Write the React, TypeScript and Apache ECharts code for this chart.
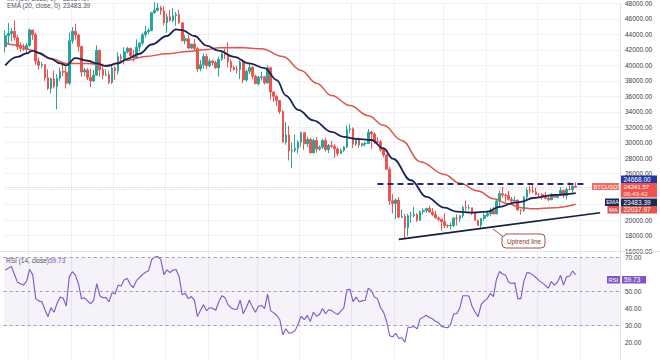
import React, { useEffect, useRef } from 'react';
import * as echarts from 'echarts';

const FONT = 'Liberation Sans, Arial, sans-serif';

// [open, close, low, high]
const febCandles = [
  [42400, 43840, 41650, 44500], [43840, 44120, 42670, 45490], [44120, 44390, 43120, 44800],
  [44390, 43570, 43200, 45820], [43570, 42400, 42000, 43920], [42400, 42200, 41760, 42990],
  [42200, 42070, 41870, 42760], [42070, 42560, 41570, 42880], [42560, 44580, 42430, 44760],
  [44580, 43960, 43310, 44580], [43960, 40540, 40070, 44200], [40540, 40010, 39450, 40990],
  [40010, 40100, 39640, 40440], [40100, 38400, 38000, 40140], [38400, 37020, 36810, 39490],
  [37020, 38250, 36350, 38450], [38250, 37260, 37050, 39300], [37260, 38330, 34320, 38860],
  [38330, 39220, 38010, 39730], [39220, 39120, 38600, 40300], [39120, 37700, 37000, 39850],
  [37700, 43190, 37450, 44230],
];
const marCandles = [
  [43190, 44420, 42810, 44950], [44420, 43920, 43330, 45400], [43920, 42450, 41830, 44100],
  [42450, 39150, 38550, 42540], [39150, 39400, 38580, 39690], [39400, 38420, 38090, 39650],
  [38420, 37990, 37160, 39550], [37990, 38730, 37860, 39380], [38730, 41940, 38660, 42600],
  [41940, 39420, 38540, 42040], [39420, 38730, 38220, 40240], [38730, 38810, 38660, 39490],
  [38810, 37790, 37570, 39310], [37790, 39670, 37590, 39950], [39670, 39280, 38100, 39880],
  [39280, 41110, 38830, 41720], [41110, 40910, 40500, 41480], [40910, 41760, 40130, 42330],
  [41760, 42200, 41500, 42400], [42200, 41260, 40900, 42300], [41260, 41000, 40460, 42000],
  [41000, 42360, 40880, 43360], [42360, 42880, 41820, 43000], [42880, 43960, 42580, 44200],
  [43960, 44350, 43590, 45100], [44350, 44510, 44070, 44800], [44510, 46820, 44410, 46950],
  [46820, 47130, 46660, 48190], [47130, 47430, 46950, 48100], [47430, 47070, 46540, 47700],
  [47070, 45510, 45200, 47600],
];
const aprCandles = [
  [45510, 46280, 44200, 46700], [46280, 45810, 45620, 47200], [45810, 46410, 45520, 47440],
  [46410, 46580, 45120, 46890], [46580, 45500, 45350, 47200], [45500, 43170, 43120, 45500],
  [43170, 43440, 42730, 43900], [43440, 42250, 42110, 43970], [42250, 42750, 42130, 42800],
  [42750, 42160, 41870, 43420], [42160, 39530, 39200, 42400], [39530, 40070, 39250, 40700],
  [40070, 41150, 39580, 41560], [41150, 39940, 39550, 41500], [39940, 40550, 39770, 40870],
  [40550, 40380, 39990, 40710], [40380, 39680, 39550, 40600], [39680, 40800, 38540, 41120],
  [40800, 41500, 40570, 41760], [41500, 41370, 40820, 42200], [41370, 40480, 39750, 42980],
  [40480, 39710, 39180, 40800], [39710, 39470, 39310, 39980], [39470, 39450, 38940, 39930],
  [39450, 40430, 38200, 40620], [40430, 38120, 37700, 40800], [38120, 39240, 37870, 39470],
  [39240, 39740, 38880, 40370], [39740, 38600, 38180, 39930], [38600, 37630, 37580, 38800],
];
const mayCandles = [
  [37630, 38470, 37390, 38670], [38470, 38520, 38050, 39170], [38520, 37720, 37500, 38650],
  [37720, 39690, 37670, 40020], [39690, 36550, 35570, 39850], [36550, 36010, 35260, 36650],
  [36010, 35470, 34780, 36130], [35470, 34040, 33710, 35500], [34040, 30080, 30030, 34240],
  [30080, 31010, 29730, 32660], [31010, 28940, 27700, 32190], [28940, 29030, 26700, 30030],
  [29030, 29280, 28750, 31080], [29280, 30080, 28610, 30330], [30080, 31300, 29480, 31430],
  [31300, 29860, 29090, 31300], [29860, 30420, 29450, 30780], [30420, 28680, 28660, 30650],
  [28680, 30290, 28670, 30540], [30290, 29180, 28730, 30770], [29180, 29430, 28940, 29620],
  [29430, 30280, 29220, 30470], [30280, 29100, 28850, 30650], [29100, 29650, 28660, 29830],
  [29650, 29540, 29290, 30220], [29540, 29200, 28020, 29850], [29200, 28620, 28270, 29390],
  [28620, 29020, 28510, 29230], [29020, 29450, 28810, 29560], [29450, 31720, 29300, 32220],
  [31720, 31790, 31210, 32400],
];
const junCandles = [
  [31790, 29800, 29300, 31980], [29800, 30450, 29580, 30650], [30450, 29700, 29300, 30680],
  [29700, 29860, 29450, 29950], [29860, 29910, 29500, 30150], [29910, 31370, 29880, 31770],
  [31370, 31130, 29220, 31560], [31130, 30200, 29850, 31330], [30200, 30110, 29950, 30700],
  [30110, 29090, 28850, 30390], [29090, 28420, 28100, 29440], [28420, 26570, 26560, 28550],
  [26570, 22490, 21930, 26900], [22490, 22140, 20850, 23360], [22140, 22580, 20110, 22800],
  [22580, 20380, 20230, 22980], [20380, 20470, 20240, 21370], [20470, 19020, 17620, 20780],
  [19020, 20550, 17950, 20820], [20550, 20570, 19640, 21080], [20570, 20720, 20350, 21720],
  [20720, 19970, 19770, 20870], [19970, 21100, 19890, 21230], [21100, 21230, 20740, 21480],
  [21230, 21500, 20930, 21600], [21500, 21030, 20960, 21870], [21030, 20730, 20510, 21540],
  [20730, 20280, 20200, 21200], [20280, 20100, 19850, 20430], [20100, 19780, 18630, 20170],
];
const julCandles = [
  [19780, 19300, 18980, 20880], [19300, 19250, 18970, 19440], [19250, 19300, 18780, 19650],
  [19300, 20240, 19060, 20350], [20240, 20190, 19300, 20740], [20190, 20560, 19770, 20670],
  [20560, 21640, 20250, 21850], [21640, 21590, 21190, 22530], [21590, 21590, 21320, 21950],
  [21590, 20850, 20650, 21600], [20850, 19960, 19880, 20870], [19960, 19330, 19240, 20050],
  [19330, 20230, 18910, 20250], [20230, 20590, 19910, 20880], [20590, 20830, 20380, 21200],
  [20830, 21190, 20470, 21590], [21190, 20790, 20760, 21680], [20790, 22430, 20760, 22780],
  [22430, 23400, 21580, 23800], [23400, 23230, 22910, 24280], [23230, 23160, 22340, 23430],
  [23160, 22680, 22500, 23760], [22680, 22450, 21940, 22990], [22450, 22580, 22270, 23030],
  [22580, 21310, 21250, 22650], [21310, 21250, 20700, 21360], [21250, 22950, 21040, 23110],
  [22950, 23850, 22590, 24200], [23850, 23770, 23420, 24440], [23770, 23640, 23500, 24668],
  [23640, 23290, 23220, 24190],
];
const augCandles = [
  [23290, 23270, 22850, 23500], [23270, 22980, 22650, 23460], [22980, 22820, 22680, 23650],
  [22820, 22620, 22430, 23230], [22620, 23310, 22590, 23460], [23310, 22950, 22930, 23350],
  [22950, 23170, 22840, 23380], [23170, 23810, 23150, 24240], [23810, 23150, 22860, 23930],
  [23150, 23950, 22660, 24220], [23950, 23940, 23850, 24920], [23940, 24400, 23600, 24460],
  [24400, 24241.57, 24200, 24890],
];

// EMA(20) read at sampled candle indices: [index, value]
const emaPoints = [
  [0, 40000], [4, 41100], [7, 41550], [9, 41900], [11, 41600], [15, 40850], [18, 40250],
  [20, 40000], [23, 40950], [27, 40600], [30, 40250], [33, 39900], [37, 40250], [40, 40850],
  [44, 41500], [48, 42700], [53, 43800], [56, 44650], [58, 44550], [62, 43800], [66, 42550],
  [70, 41900], [75, 41100], [80, 40250], [85, 39650], [89, 38100], [92, 36100], [96, 34250],
  [101, 32900], [107, 31400], [111, 30750], [115, 30500], [120, 30350], [124, 29250],
  [127, 27950], [133, 25150], [138, 23000], [144, 21600], [148, 21080], [153, 20950],
  [158, 21080], [162, 21700], [167, 22250], [169, 22350], [173, 22850], [180, 23250],
  [187, 23483.39],
];
// MA(50) read at sampled candle indices
const maPoints = [
  [0, 42900], [5, 42550], [9, 41900], [15, 40900], [20, 40250], [27, 40250], [33, 40000],
  [40, 40650], [46, 41150], [53, 41500], [60, 41800], [66, 42050], [70, 42280], [77, 42300],
  [84, 42150], [91, 41150], [97, 39350], [102, 37700], [107, 36100], [113, 34800],
  [119, 33500], [124, 32250], [130, 30300], [136, 27550], [144, 25900], [149, 24750],
  [155, 23750], [160, 22750], [165, 22100], [169, 21600], [173, 21450], [180, 21600],
  [187, 22037.97],
];
// RSI(14), one value per candle
const rsiValues = [
  62.5, 63.5, 64.6, 60, 55.4, 54.5, 53.7, 56, 62.8, 59.8,
  45.8, 44.5, 44, 39.5, 35.3, 40.5, 37.9, 43, 46.7, 46,
  41.4, 58.5, 61.5, 59.5, 54.5, 45.8, 46.3, 44.5, 42.8, 44.9,
  54.6, 47.5, 46.3, 46.5, 44, 49.3, 48.5, 53.7, 53.2, 56.8,
  57.5, 54, 52.3, 56.3, 58, 59.8, 61.2, 62.1, 68.6, 70,
  70.3, 68.5, 59.8, 62.5, 61, 62.5, 62.8, 58.5, 48, 49,
  45.8, 47, 44.9, 35.3, 39, 42.3, 38.8, 40.5, 40.2, 39,
  44, 47.5, 46.5, 42.3, 40.5, 39.6, 39.6, 44.9, 37, 40.5,
  44.9, 41, 37.9, 41.4, 41.8, 40, 48.4, 38.8, 37.5, 36.1,
  33.5, 24.7, 28.2, 25.6, 26, 27, 31, 35.5, 33.5, 36,
  32.5, 37.9, 35.5, 36.5, 40, 37, 39.3, 38.8, 37.5, 36.5,
  38.5, 40.5, 51, 51.2, 44, 46.7, 44, 44.5, 44.9, 51.9,
  50.5, 46.7, 45.8, 40.5, 37.9, 32.6, 24.2, 23.5, 25.6, 22.5,
  23, 20.4, 29.1, 29.1, 29.5, 28.2, 34, 35, 36.1, 34.8,
  34, 32.6, 31.8, 29.6, 29.1, 28.8, 30.9, 37, 37, 40.5,
  47.5, 47.5, 47.3, 41.4, 38, 35.3, 42.3, 44.5, 45.8, 48.8,
  47, 57, 61.6, 60.2, 59.5, 55.4, 54.6, 55, 45.8, 45.8,
  56, 61, 60.7, 59.5, 58, 56.3, 55, 53.7, 51.9, 55.8,
  53.7, 55.4, 59.3, 53.7, 58.6, 59, 61.9, 59.73,
];

const resistance = 24668;
const lastPrice = 24241.57;
const trendStart = [129, 17500];
const trendEnd = [195, 20950];
const resistanceFrom = 122;
const resistanceTo = 190;
const TOTAL_SLOTS = 202;
const hiddenPriceTicks = [22000, 24000];
const hiddenRsiTicks = [60];

const candles = [
  ...febCandles, ...marCandles, ...aprCandles, ...mayCandles,
  ...junCandles, ...julCandles, ...augCandles,
];

const categories: string[] = [];
for (let i = 0; i < TOTAL_SLOTS; i++) {
  const d = new Date(Date.UTC(2022, 1, 7 + i));
  categories.push(d.toISOString().slice(0, 10));
}

const GRID_LEFT = 3.7;
const GRID_RIGHT = 40;

function txt(text: string, x: number, y: number, fill: string, size = 6.5, extra: any = {}) {
  return {
    type: 'text', x, y, z: 120, silent: true,
    style: { text, fill, fontSize: size, fontFamily: FONT, textVerticalAlign: 'middle', ...extra },
  };
}
function box(x: number, y: number, w: number, h: number, fill: string) {
  return { type: 'rect', z: 110, silent: true, shape: { x, y, width: w, height: h }, style: { fill } };
}

const splitInterval = (_i: number, v: string) => v.endsWith('-01') || v.endsWith('-15');

export default function App() {
  const ref = useRef<HTMLDivElement>(null);
  useEffect(() => {
    document.body.style.margin = '0';
    const chart = echarts.init(ref.current!, undefined, { renderer: 'svg' });
    const option: any = {
      animation: false,
      backgroundColor: '#ffffff',
      grid: [
        { left: GRID_LEFT, right: GRID_RIGHT, top: -1, height: 252 },
        { left: GRID_LEFT, right: GRID_RIGHT, top: 240, height: 133 },
      ],
      xAxis: [0, 1].map((g) => ({
        type: 'category', gridIndex: g, data: categories, boundaryGap: true,
        axisLine: { show: false }, axisTick: { show: false }, axisLabel: { show: false },
        splitLine: { show: true, interval: splitInterval, lineStyle: { color: '#eef1f6', width: 1 } },
      })),
      yAxis: [
        {
          type: 'value', gridIndex: 0, position: 'right', min: 16000, max: 48000, interval: 2000,
          axisLine: { show: true, lineStyle: { color: '#dfe2ea' } }, axisTick: { show: false },
          axisLabel: {
            formatter: (v: number) => (hiddenPriceTicks.indexOf(v) >= 0 ? '' : v.toFixed(2)),
            fontSize: 6.5, color: '#3a3d47', margin: 5, fontFamily: FONT,
          },
          splitLine: { show: true, lineStyle: { color: '#eef1f6' } },
        },
        {
          type: 'value', gridIndex: 1, position: 'right', min: 10, max: 80, interval: 10,
          axisLine: { show: true, lineStyle: { color: '#dfe2ea' } }, axisTick: { show: false },
          axisLabel: {
            formatter: (v: number) => (v >= 20 && v <= 70 && hiddenRsiTicks.indexOf(v) < 0 ? v.toFixed(2) : ''),
            fontSize: 6.5, color: '#3a3d47', margin: 5, fontFamily: FONT,
          },
          splitLine: { show: false },
        },
      ],
      series: [
        {
          type: 'candlestick', xAxisIndex: 0, yAxisIndex: 0, data: candles, barWidth: '70%',
          itemStyle: { color: '#26a69a', color0: '#ef5350', borderColor: '#26a69a', borderColor0: '#ef5350', borderWidth: 1 },
          markLine: {
            silent: true, symbol: ['none', 'none'], label: { show: false }, animation: false,
            data: [
              [
                { coord: [categories[0], lastPrice], lineStyle: { color: 'rgba(239,83,80,0.45)', width: 1, type: [1, 2] } },
                { coord: [categories[TOTAL_SLOTS - 1], lastPrice] },
              ],
              [
                { coord: [categories[resistanceFrom], resistance], lineStyle: { color: '#1f2b6e', width: 2, type: [6, 4] } },
                { coord: [categories[resistanceTo], resistance] },
              ],
              [
                { coord: [categories[trendStart[0]], trendStart[1]], lineStyle: { color: '#1a1f3d', width: 1.6, type: 'solid' } },
                { coord: [categories[trendEnd[0]], trendEnd[1]] },
              ],
            ],
          },
        },
        {
          type: 'line', name: 'MA', xAxisIndex: 0, yAxisIndex: 0, data: maPoints, smooth: 0.4,
          smoothMonotone: 'x', showSymbol: false, silent: true,
          lineStyle: { color: '#d9574c', width: 1.5 },
        },
        {
          type: 'line', name: 'EMA', xAxisIndex: 0, yAxisIndex: 0, data: emaPoints, smooth: 0.4,
          smoothMonotone: 'x', showSymbol: false, silent: true,
          lineStyle: { color: '#1b2354', width: 1.8 },
        },
        {
          type: 'line', name: 'RSI', xAxisIndex: 1, yAxisIndex: 1, data: rsiValues,
          showSymbol: false, silent: true, lineStyle: { color: '#7e57c2', width: 1.1 },
          markArea: {
            silent: true, itemStyle: { color: 'rgba(126,87,194,0.08)' },
            data: [[{ yAxis: 30 }, { yAxis: 70 }]],
          },
          markLine: {
            silent: true, symbol: ['none', 'none'], label: { show: false },
            lineStyle: { color: '#a09cae', type: [3, 3], width: 1 },
            data: [{ yAxis: 70 }, { yAxis: 50 }, { yAxis: 30 }],
          },
        },
      ],
      graphic: [
        // pane separator
        { type: 'line', z: 105, silent: true, shape: { x1: 0, y1: 251.5, x2: 660, y2: 251.5 }, style: { stroke: '#e0e3eb', lineWidth: 1 } },
        // legends
        txt('MA (50, close, 0)', 7, -1.5, '#50535e'),
        txt('22037.97', 63, -1.5, '#50535e'),
        txt('EMA (20, close, 0)', 7, 5.8, '#50535e'),
        txt('23483.39', 63, 5.8, '#50535e'),
        txt('RSI (14, close)', 6, 260.5, '#50535e'),
        txt('59.73', 49, 260.5, '#7e57c2'),
        // callout
        { type: 'polyline', z: 110, silent: true, shape: { points: [[493, 229], [503, 236.5], [507, 234]] }, style: { stroke: '#a0524a', fill: '#ffffff', lineWidth: 1 } },
        { type: 'rect', z: 109, silent: true, shape: { x: 502, y: 234, width: 43, height: 14, r: 4 }, style: { fill: '#ffffff', stroke: '#a0524a', lineWidth: 1 } },
        txt('Uptrend line', 507, 241.2, '#7a3630', 6.3),
        // right labels
        box(621, 175.5, 36, 7.5, '#2336a6'),
        txt('24668.00', 623.5, 179.3, '#ffffff'),
        box(592, 183, 27, 7, '#ec6a62'),
        txt('BTCUSDT', 593.5, 186.6, '#ffffff', 5.8),
        box(621, 183, 36, 14.5, '#ef5350'),
        txt('24241.57', 623.5, 186.6, '#ffffff', 6.2),
        txt('06:49:42', 623.5, 193.8, '#ffe3e1', 6.2),
        box(605, 198.5, 14, 7.5, '#1c2757'),
        txt('EMA', 606.2, 202.3, '#ffffff', 5.8),
        box(621, 198.5, 36, 7.5, '#1c2757'),
        txt('23483.39', 623.5, 202.3, '#ffffff'),
        box(607.5, 206, 11.5, 7.5, '#e0554c'),
        txt('MA', 609, 209.8, '#ffffff', 5.8),
        box(621, 206, 36, 7.5, '#e0554c'),
        txt('22037.97', 623.5, 209.8, '#ffffff'),
        box(607, 276, 13, 7.5, '#7e57c2'),
        txt('RSI', 608.5, 279.8, '#ffffff', 5.8),
        box(622, 276, 24, 7.5, '#7e57c2'),
        txt('59.73', 624, 279.8, '#ffffff'),
      ],
    };
    chart.setOption(option);
    return () => chart.dispose();
  }, []);
  return (
    <div
      ref={ref}
      style={{ position: 'absolute', left: 0, top: 0, width: 660, height: 360, background: '#fff' }}
    />
  );
}
